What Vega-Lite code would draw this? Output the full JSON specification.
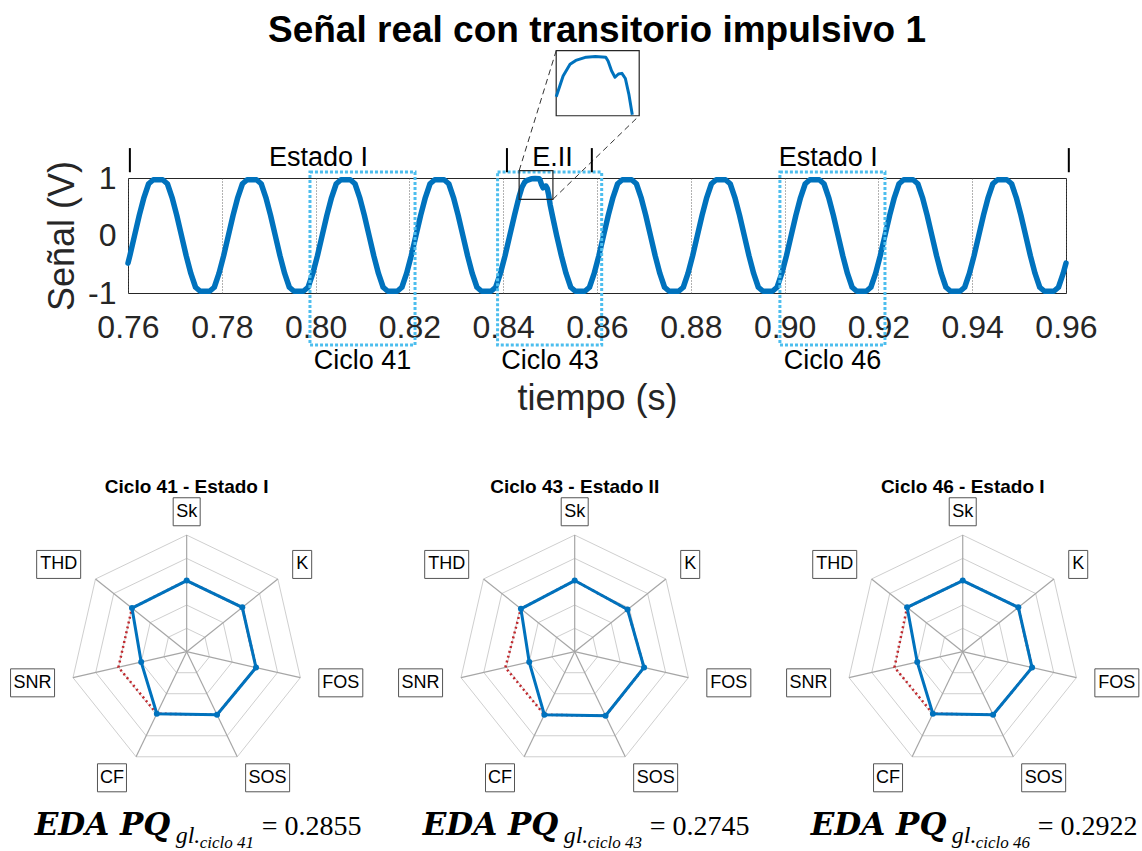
{
"$schema":"https://vega.github.io/schema/vega-lite/v6.json",
"autosize":"none",
"width":938,"height":115,
"padding":{"left":128,"top":178,"right":76,"bottom":558},
"background":"white",
"config":{"font":"Liberation Sans","view":{"stroke":"#262626","strokeWidth":1}},
"datasets":{
"signal":[
{"t":0.76,"v":-0.48},{"t":0.7604,"v":-0.35},
{"t":0.7614,"v":0},{"t":0.7624,"v":0.35},{"t":0.7634,"v":0.66},{"t":0.7644,"v":0.9},{"t":0.7654,"v":0.97},{"t":0.7664,"v":0.97},{"t":0.7674,"v":0.97},{"t":0.7684,"v":0.9},{"t":0.7694,"v":0.66},{"t":0.7704,"v":0.35},{"t":0.7714,"v":0},{"t":0.7724,"v":-0.35},{"t":0.7734,"v":-0.66},{"t":0.7744,"v":-0.9},{"t":0.7754,"v":-0.97},{"t":0.7764,"v":-0.97},{"t":0.7774,"v":-0.97},{"t":0.7784,"v":-0.9},{"t":0.7794,"v":-0.66},{"t":0.7804,"v":-0.35},
{"t":0.7814,"v":0},{"t":0.7824,"v":0.35},{"t":0.7834,"v":0.66},{"t":0.7844,"v":0.9},{"t":0.7854,"v":0.97},{"t":0.7864,"v":0.97},{"t":0.7874,"v":0.97},{"t":0.7884,"v":0.9},{"t":0.7894,"v":0.66},{"t":0.7904,"v":0.35},{"t":0.7914,"v":0},{"t":0.7924,"v":-0.35},{"t":0.7934,"v":-0.66},{"t":0.7944,"v":-0.9},{"t":0.7954,"v":-0.97},{"t":0.7964,"v":-0.97},{"t":0.7974,"v":-0.97},{"t":0.7984,"v":-0.9},{"t":0.7994,"v":-0.66},{"t":0.8004,"v":-0.35},
{"t":0.8014,"v":0},{"t":0.8024,"v":0.35},{"t":0.8034,"v":0.66},{"t":0.8044,"v":0.9},{"t":0.8054,"v":0.97},{"t":0.8064,"v":0.97},{"t":0.8074,"v":0.97},{"t":0.8084,"v":0.9},{"t":0.8094,"v":0.66},{"t":0.8104,"v":0.35},{"t":0.8114,"v":0},{"t":0.8124,"v":-0.35},{"t":0.8134,"v":-0.66},{"t":0.8144,"v":-0.9},{"t":0.8154,"v":-0.97},{"t":0.8164,"v":-0.97},{"t":0.8174,"v":-0.97},{"t":0.8184,"v":-0.9},{"t":0.8194,"v":-0.66},{"t":0.8204,"v":-0.35},
{"t":0.8214,"v":0},{"t":0.8224,"v":0.35},{"t":0.8234,"v":0.66},{"t":0.8244,"v":0.9},{"t":0.8254,"v":0.97},{"t":0.8264,"v":0.97},{"t":0.8274,"v":0.97},{"t":0.8284,"v":0.9},{"t":0.8294,"v":0.66},{"t":0.8304,"v":0.35},{"t":0.8314,"v":0},{"t":0.8324,"v":-0.35},{"t":0.8334,"v":-0.66},{"t":0.8344,"v":-0.9},{"t":0.8354,"v":-0.97},{"t":0.8364,"v":-0.97},{"t":0.8374,"v":-0.97},{"t":0.8384,"v":-0.9},{"t":0.8394,"v":-0.66},{"t":0.8404,"v":-0.35},
{"t":0.8414,"v":0},{"t":0.8424,"v":0.35},{"t":0.8434,"v":0.68},{"t":0.844,"v":0.84},{"t":0.8446,"v":0.93},{"t":0.8451,"v":0.96},{"t":0.846,"v":0.985},{"t":0.8468,"v":0.99},{"t":0.8477,"v":0.985},{"t":0.8479,"v":0.955},{"t":0.8482,"v":0.88},{"t":0.8485,"v":0.83},{"t":0.8488,"v":0.855},{"t":0.8491,"v":0.86},{"t":0.8494,"v":0.82},{"t":0.8497,"v":0.7},{"t":0.85,"v":0.54},{"t":0.8504,"v":0.38},{"t":0.8514,"v":0},{"t":0.8524,"v":-0.35},{"t":0.8534,"v":-0.66},{"t":0.8544,"v":-0.9},{"t":0.8554,"v":-0.97},{"t":0.8564,"v":-0.97},{"t":0.8574,"v":-0.97},{"t":0.8584,"v":-0.9},{"t":0.8594,"v":-0.66},{"t":0.8604,"v":-0.35},
{"t":0.8614,"v":0},{"t":0.8624,"v":0.35},{"t":0.8634,"v":0.66},{"t":0.8644,"v":0.9},{"t":0.8654,"v":0.97},{"t":0.8664,"v":0.97},{"t":0.8674,"v":0.97},{"t":0.8684,"v":0.9},{"t":0.8694,"v":0.66},{"t":0.8704,"v":0.35},{"t":0.8714,"v":0},{"t":0.8724,"v":-0.35},{"t":0.8734,"v":-0.66},{"t":0.8744,"v":-0.9},{"t":0.8754,"v":-0.97},{"t":0.8764,"v":-0.97},{"t":0.8774,"v":-0.97},{"t":0.8784,"v":-0.9},{"t":0.8794,"v":-0.66},{"t":0.8804,"v":-0.35},
{"t":0.8814,"v":0},{"t":0.8824,"v":0.35},{"t":0.8834,"v":0.66},{"t":0.8844,"v":0.9},{"t":0.8854,"v":0.97},{"t":0.8864,"v":0.97},{"t":0.8874,"v":0.97},{"t":0.8884,"v":0.9},{"t":0.8894,"v":0.66},{"t":0.8904,"v":0.35},{"t":0.8914,"v":0},{"t":0.8924,"v":-0.35},{"t":0.8934,"v":-0.66},{"t":0.8944,"v":-0.9},{"t":0.8954,"v":-0.97},{"t":0.8964,"v":-0.97},{"t":0.8974,"v":-0.97},{"t":0.8984,"v":-0.9},{"t":0.8994,"v":-0.66},{"t":0.9004,"v":-0.35},
{"t":0.9014,"v":0},{"t":0.9024,"v":0.35},{"t":0.9034,"v":0.66},{"t":0.9044,"v":0.9},{"t":0.9054,"v":0.97},{"t":0.9064,"v":0.97},{"t":0.9074,"v":0.97},{"t":0.9084,"v":0.9},{"t":0.9094,"v":0.66},{"t":0.9104,"v":0.35},{"t":0.9114,"v":0},{"t":0.9124,"v":-0.35},{"t":0.9134,"v":-0.66},{"t":0.9144,"v":-0.9},{"t":0.9154,"v":-0.97},{"t":0.9164,"v":-0.97},{"t":0.9174,"v":-0.97},{"t":0.9184,"v":-0.9},{"t":0.9194,"v":-0.66},{"t":0.9204,"v":-0.35},
{"t":0.9214,"v":0},{"t":0.9224,"v":0.35},{"t":0.9234,"v":0.66},{"t":0.9244,"v":0.9},{"t":0.9254,"v":0.97},{"t":0.9264,"v":0.97},{"t":0.9274,"v":0.97},{"t":0.9284,"v":0.9},{"t":0.9294,"v":0.66},{"t":0.9304,"v":0.35},{"t":0.9314,"v":0},{"t":0.9324,"v":-0.35},{"t":0.9334,"v":-0.66},{"t":0.9344,"v":-0.9},{"t":0.9354,"v":-0.97},{"t":0.9364,"v":-0.97},{"t":0.9374,"v":-0.97},{"t":0.9384,"v":-0.9},{"t":0.9394,"v":-0.66},{"t":0.9404,"v":-0.35},
{"t":0.9414,"v":0},{"t":0.9424,"v":0.35},{"t":0.9434,"v":0.66},{"t":0.9444,"v":0.9},{"t":0.9454,"v":0.97},{"t":0.9464,"v":0.97},{"t":0.9474,"v":0.97},{"t":0.9484,"v":0.9},{"t":0.9494,"v":0.66},{"t":0.9504,"v":0.35},{"t":0.9514,"v":0},{"t":0.9524,"v":-0.35},{"t":0.9534,"v":-0.66},{"t":0.9544,"v":-0.9},{"t":0.9554,"v":-0.97},{"t":0.9564,"v":-0.97},{"t":0.9574,"v":-0.97},{"t":0.9584,"v":-0.9},{"t":0.9594,"v":-0.66},{"t":0.96,"v":-0.48}
],
"boxes":[{"t":0.7988,"t2":0.8212,"v":-1.904,"v2":1.104},{"t":0.8388,"t2":0.861,"v":-1.904,"v2":1.104},{"t":0.899,"t2":0.9214,"v":-1.904,"v2":1.104}],
"cycleLabels":[{"t":0.81,"v":-2.32,"label":"Ciclo 41"},{"t":0.85,"v":-2.32,"label":"Ciclo 43"},{"t":0.9102,"v":-2.32,"label":"Ciclo 46"}],
"states":[{"t":0.8006,"v":1.209,"label":"Estado I"},{"t":0.8505,"v":1.209,"label":"E.II"},{"t":0.9093,"v":1.209,"label":"Estado I"}],
"markers":[{"t":0.7604,"v":1.1,"v2":1.52},{"t":0.8408,"v":1.1,"v2":1.52},{"t":0.8589,"v":1.1,"v2":1.52},{"t":0.9606,"v":1.1,"v2":1.52}],
"zoombox":[{"t":0.8434,"t2":0.8506,"v":0.63,"v2":1.127}],
"insetframe":[{"t":0.8513,"t2":0.869,"v":2.083,"v2":3.214}],
"connectors":[{"t":0.8434,"v":1.127,"t2":0.8513,"v2":3.214},{"t":0.8506,"v":0.63,"t2":0.869,"v2":2.083}],
"title":[{"t":0.86,"v":3.365,"label":"Señal real con transitorio impulsivo 1"}],
"radar":[
{"c":"41","i":0,"var":"Sk","k":0,"v":0.61,"ref":0.61},{"c":"41","i":0,"var":"K","k":1,"v":0.61,"ref":0.61},{"c":"41","i":0,"var":"FOS","k":2,"v":0.61,"ref":0.61},{"c":"41","i":0,"var":"SOS","k":3,"v":0.6,"ref":0.6},{"c":"41","i":0,"var":"CF","k":4,"v":0.59,"ref":0.59},{"c":"41","i":0,"var":"SNR","k":5,"v":0.4,"ref":0.6},{"c":"41","i":0,"var":"THD","k":6,"v":0.6,"ref":0.6},{"c":"41","i":0,"var":"Sk","k":7,"v":0.61,"ref":0.61},
{"c":"43","i":1,"var":"Sk","k":0,"v":0.61,"ref":0.61},{"c":"43","i":1,"var":"K","k":1,"v":0.58,"ref":0.58},{"c":"43","i":1,"var":"FOS","k":2,"v":0.61,"ref":0.61},{"c":"43","i":1,"var":"SOS","k":3,"v":0.61,"ref":0.61},{"c":"43","i":1,"var":"CF","k":4,"v":0.6,"ref":0.6},{"c":"43","i":1,"var":"SNR","k":5,"v":0.4,"ref":0.61},{"c":"43","i":1,"var":"THD","k":6,"v":0.59,"ref":0.59},{"c":"43","i":1,"var":"Sk","k":7,"v":0.61,"ref":0.61},
{"c":"46","i":2,"var":"Sk","k":0,"v":0.61,"ref":0.61},{"c":"46","i":2,"var":"K","k":1,"v":0.61,"ref":0.61},{"c":"46","i":2,"var":"FOS","k":2,"v":0.61,"ref":0.61},{"c":"46","i":2,"var":"SOS","k":3,"v":0.6,"ref":0.6},{"c":"46","i":2,"var":"CF","k":4,"v":0.59,"ref":0.59},{"c":"46","i":2,"var":"SNR","k":5,"v":0.4,"ref":0.6},{"c":"46","i":2,"var":"THD","k":6,"v":0.61,"ref":0.61},{"c":"46","i":2,"var":"Sk","k":7,"v":0.61,"ref":0.61}
],
"rings":[{"i":[0,1,2],"lv":[0.2,0.4,0.6,0.8,1],"k":[0,1,2,3,4,5,6,7]}],
"panels":[{"i":0,"title":"Ciclo 41 - Estado I","sub":"ciclo 41","val":0.2855},{"i":1,"title":"Ciclo 43 - Estado II","sub":"ciclo 43","val":0.2745},{"i":2,"title":"Ciclo 46 - Estado I","sub":"ciclo 46","val":0.2922}]
},
"resolve":{"scale":{"x":"independent","y":"independent"}},
"layer":[
{
"encoding":{
"x":{"field":"t","type":"quantitative","title":"tiempo (s)","scale":{"domain":[0.76,0.96],"nice":false,"zero":false},
"axis":{"values":[0.76,0.78,0.8,0.82,0.84,0.86,0.88,0.9,0.92,0.94,0.96],"format":".2f","labelFontSize":32,"labelColor":"#262626","labelPadding":19,"labelFlush":false,"labelOverlap":false,"ticks":false,"domain":false,"grid":true,"gridDash":[1,2],"gridColor":"#555555","gridOpacity":0.9,"titleFontSize":36,"titleFontWeight":"normal","titleColor":"#262626","titlePadding":38}},
"y":{"field":"v","type":"quantitative","title":"Señal (V)","scale":{"domain":[-1,1],"nice":false,"zero":false},
"axis":{"values":[-1,0,1],"labelExpr":"datum.value < 0 ? '-' + format(-datum.value, 'd') : format(datum.value, 'd')","labelFontSize":32,"labelColor":"#262626","labelPadding":12,"labelFlush":false,"ticks":false,"domain":false,"grid":false,"titleFontSize":36,"titleFontWeight":"normal","titleColor":"#262626","titlePadding":6}}
},
"layer":[
{"data":{"name":"signal"},"mark":{"type":"line","color":"#0072BD","strokeWidth":5.5,"strokeJoin":"round","strokeCap":"round"}},
{"data":{"name":"boxes"},"mark":{"type":"rect","filled":false,"color":"#4DBEEE","strokeWidth":3,"strokeDash":[3,2]},"encoding":{"x2":{"field":"t2"},"y2":{"field":"v2"}}},
{"data":{"name":"zoombox"},"mark":{"type":"rect","filled":false,"color":"#262626","strokeWidth":1.2},"encoding":{"x2":{"field":"t2"},"y2":{"field":"v2"}}},
{"data":{"name":"insetframe"},"mark":{"type":"rect","filled":false,"color":"#262626","strokeWidth":1.2},"encoding":{"x2":{"field":"t2"},"y2":{"field":"v2"}}},
{"data":{"name":"connectors"},"mark":{"type":"rule","color":"#333333","strokeWidth":1,"strokeDash":[6,4]},"encoding":{"x2":{"field":"t2"},"y2":{"field":"v2"}}},
{"data":{"name":"markers"},"mark":{"type":"rule","color":"#000000","strokeWidth":2},"encoding":{"y2":{"field":"v2"}}},
{"data":{"name":"states"},"mark":{"type":"text","fontSize":27,"baseline":"alphabetic","align":"center","color":"#000000"},"encoding":{"text":{"field":"label"}}},
{"data":{"name":"cycleLabels"},"mark":{"type":"text","fontSize":27,"baseline":"alphabetic","align":"center","color":"#000000"},"encoding":{"text":{"field":"label"}}},
{"data":{"name":"title"},"mark":{"type":"text","fontSize":37,"fontWeight":"bold","baseline":"alphabetic","align":"center","color":"#000000"},"encoding":{"text":{"field":"label"}}}
]
},
{
"data":{"name":"signal"},
"transform":[{"filter":"datum.t >= 0.8434 && datum.t <= 0.8501"}],
"mark":{"type":"line","color":"#0072BD","strokeWidth":3,"strokeJoin":"round"},
"encoding":{
"x":{"field":"t","type":"quantitative","scale":{"domain":[0.8434,0.8506],"range":[428.2,511.2],"nice":false,"zero":false},"axis":null},
"y":{"field":"v","type":"quantitative","scale":{"domain":[0.533,1.035],"range":[-62.3,-127.3],"nice":false,"zero":false},"axis":null}
}
},
{
"encoding":{
"x":{"field":"rx","type":"quantitative","scale":{"domain":[-1.6,8.2552],"range":[-127.9,1021.3],"nice":false,"zero":false},"axis":null},
"y":{"field":"ry","type":"quantitative","scale":{"domain":[-1.6,1.6],"range":[660.3,287.1],"nice":false,"zero":false},"axis":null}
},
"layer":[
{"data":{"name":"rings"},
"transform":[{"flatten":["i"]},{"flatten":["lv"]},{"flatten":["k"]},{"calculate":"datum.k*2*PI/7","as":"a"},{"calculate":"datum.i*3.3276 + datum.lv*sin(datum.a)","as":"rx"},{"calculate":"datum.lv*cos(datum.a)","as":"ry"}],
"mark":{"type":"line","color":"#cfcfcf","strokeWidth":1},
"encoding":{"detail":[{"field":"i","type":"nominal"},{"field":"lv","type":"nominal"}],"order":{"field":"k","type":"quantitative"}}},
{"data":{"name":"radar"},
"transform":[{"filter":"datum.k < 7"},{"calculate":"datum.k*2*PI/7","as":"a"},{"calculate":"datum.i*3.3276","as":"rx"},{"calculate":"0","as":"ry"},{"calculate":"datum.i*3.3276 + sin(datum.a)","as":"rx2"},{"calculate":"cos(datum.a)","as":"ry2"}],
"mark":{"type":"rule","color":"#a6a6a6","strokeWidth":1.2},
"encoding":{"x2":{"field":"rx2"},"y2":{"field":"ry2"}}},
{"data":{"name":"radar"},
"transform":[{"calculate":"datum.k*2*PI/7","as":"a"},{"calculate":"datum.i*3.3276 + datum.ref*sin(datum.a)","as":"rx"},{"calculate":"datum.ref*cos(datum.a)","as":"ry"}],
"mark":{"type":"line","color":"#C0282D","strokeWidth":2.5,"strokeDash":[2,3]},
"encoding":{"detail":{"field":"c","type":"nominal"},"order":{"field":"k","type":"quantitative"}}},
{"data":{"name":"radar"},
"transform":[{"calculate":"datum.k*2*PI/7","as":"a"},{"calculate":"datum.i*3.3276 + datum.v*sin(datum.a)","as":"rx"},{"calculate":"datum.v*cos(datum.a)","as":"ry"}],
"mark":{"type":"line","color":"#0072BD","strokeWidth":3},
"encoding":{"detail":{"field":"c","type":"nominal"},"order":{"field":"k","type":"quantitative"}}},
{"data":{"name":"radar"},
"transform":[{"filter":"datum.k < 7"},{"calculate":"datum.k*2*PI/7","as":"a"},{"calculate":"datum.i*3.3276 + datum.v*sin(datum.a)","as":"rx"},{"calculate":"datum.v*cos(datum.a)","as":"ry"}],
"mark":{"type":"circle","color":"#0072BD","size":36,"opacity":1}},
{"data":{"name":"radar"},
"transform":[{"filter":"datum.k < 7"},{"calculate":"datum.k*2*PI/7","as":"a"},{"calculate":"datum.i*3.3276 + 1.16*sin(datum.a) + (sin(datum.a) > 0.01 ? 1 : (sin(datum.a) < -0.01 ? -1 : 0))*(length(datum.var)*12.5+7)/233.2","as":"rx"},{"calculate":"1.2*cos(datum.a)","as":"ry"}],
"mark":{"type":"point","filled":true,"fill":"white","stroke":"#555555","strokeWidth":1,"opacity":1},
"encoding":{
"shape":{"field":"var","type":"nominal","legend":null,"scale":{"domain":["Sk","K","FOS","SOS","CF","SNR","THD"],"range":["M-1,-1.037H1V1.037H-1Z","M-1,-1.474H1V1.474H-1Z","M-1,-0.636H1V0.636H-1Z","M-1,-0.636H1V0.636H-1Z","M-1,-0.966H1V0.966H-1Z","M-1,-0.636H1V0.636H-1Z","M-1,-0.636H1V0.636H-1Z"]}},
"size":{"field":"var","type":"ordinal","legend":null,"scale":{"type":"ordinal","domain":["Sk","K","FOS","SOS","CF","SNR","THD"],"range":[729,361,1936,1936,841,1936,1936]}}
}},
{"data":{"name":"radar"},
"transform":[{"filter":"datum.k < 7"},{"calculate":"datum.k*2*PI/7","as":"a"},{"calculate":"datum.i*3.3276 + 1.16*sin(datum.a) + (sin(datum.a) > 0.01 ? 1 : (sin(datum.a) < -0.01 ? -1 : 0))*(length(datum.var)*12.5+7)/233.2","as":"rx"},{"calculate":"1.2*cos(datum.a)","as":"ry"}],
"mark":{"type":"text","fontSize":18,"align":"center","baseline":"middle","color":"#000000"},
"encoding":{"text":{"field":"var"}}},
{"data":{"name":"panels"},
"transform":[{"calculate":"datum.i*3.3276","as":"rx"},{"calculate":"1.361","as":"ry"}],
"mark":{"type":"text","fontSize":19,"fontWeight":"bold","align":"center","baseline":"alphabetic","color":"#000000"},
"encoding":{"text":{"field":"title"}}},
{"data":{"name":"panels"},
"transform":[{"calculate":"datum.i*3.3276","as":"rx"},{"calculate":"-1.572","as":"ry"}],
"mark":{"type":"text","font":"DejaVu Serif","fontSize":31,"fontWeight":"bold","fontStyle":"italic","align":"left","baseline":"alphabetic","dx":-152,"color":"#000000"},
"encoding":{"text":{"value":"EDA PQ"}}},
{"data":{"name":"panels"},
"transform":[{"calculate":"datum.i*3.3276","as":"rx"},{"calculate":"-1.572","as":"ry"}],
"mark":{"type":"text","font":"Liberation Serif","fontSize":24,"fontStyle":"italic","align":"left","baseline":"alphabetic","dx":-11,"dy":8,"color":"#000000"},
"encoding":{"text":{"value":"gl."}}},
{"data":{"name":"panels"},
"transform":[{"calculate":"datum.i*3.3276","as":"rx"},{"calculate":"-1.572","as":"ry"}],
"mark":{"type":"text","font":"Liberation Serif","fontSize":17,"fontStyle":"italic","align":"left","baseline":"alphabetic","dx":13,"dy":13,"color":"#000000"},
"encoding":{"text":{"field":"sub"}}},
{"data":{"name":"panels"},
"transform":[{"calculate":"datum.i*3.3276","as":"rx"},{"calculate":"-1.572","as":"ry"},{"calculate":"'= ' + format(datum.val, '.4f')","as":"eq"}],
"mark":{"type":"text","font":"Liberation Serif","fontSize":28,"align":"left","baseline":"alphabetic","dx":75,"color":"#000000"},
"encoding":{"text":{"field":"eq"}}}
]
}
]
}
